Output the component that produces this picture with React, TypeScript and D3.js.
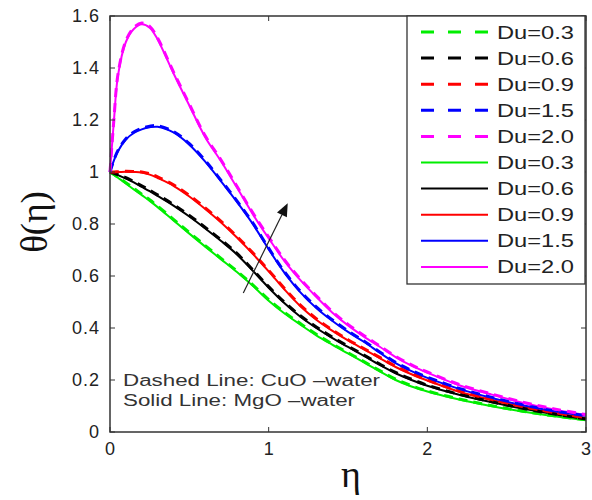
import React from "react";
import * as d3 from "d3";

const eta = [0, 0.025, 0.05, 0.1, 0.15, 0.2, 0.25, 0.3, 0.4, 0.5, 0.6, 0.7, 0.8, 0.9, 1.0, 1.1, 1.2, 1.3, 1.4, 1.5, 1.6, 1.7, 1.8, 1.9, 2.0, 2.2, 2.4, 2.6, 2.8, 3.0];

// Solid lines: MgO-water
const mgoDu03 = [1.0, 0.989, 0.978, 0.956, 0.933, 0.911, 0.889, 0.865, 0.814, 0.763, 0.713, 0.664, 0.615, 0.562, 0.505, 0.456, 0.413, 0.372, 0.336, 0.302, 0.268, 0.233, 0.2, 0.175, 0.156, 0.125, 0.1, 0.079, 0.061, 0.046];
const mgoDu06 = [1.0, 0.994, 0.988, 0.975, 0.96, 0.943, 0.926, 0.908, 0.871, 0.829, 0.783, 0.735, 0.683, 0.62, 0.555, 0.495, 0.443, 0.4, 0.362, 0.327, 0.293, 0.258, 0.226, 0.2, 0.178, 0.143, 0.115, 0.09, 0.068, 0.049];
const mgoDu09 = [1.0, 1.0, 1.0, 1.001, 1.0, 0.998, 0.99, 0.977, 0.947, 0.906, 0.858, 0.806, 0.748, 0.685, 0.618, 0.548, 0.484, 0.432, 0.39, 0.352, 0.318, 0.284, 0.25, 0.222, 0.198, 0.155, 0.124, 0.097, 0.074, 0.054];
const mgoDu15 = [1.0, 1.045, 1.08, 1.125, 1.15, 1.164, 1.172, 1.174, 1.152, 1.105, 1.04, 0.964, 0.885, 0.8, 0.703, 0.612, 0.537, 0.477, 0.428, 0.385, 0.347, 0.305, 0.265, 0.234, 0.208, 0.166, 0.132, 0.103, 0.08, 0.062];
const mgoDu20 = [1.0, 1.2, 1.37, 1.5, 1.55, 1.568, 1.555, 1.51, 1.38, 1.256, 1.134, 1.041, 0.94, 0.838, 0.745, 0.657, 0.584, 0.52, 0.46, 0.41, 0.367, 0.328, 0.288, 0.255, 0.228, 0.18, 0.145, 0.113, 0.087, 0.065];

// Dashed lines: CuO-water
const cuoDu03 = [1.0, 0.99, 0.98, 0.959, 0.937, 0.915, 0.893, 0.869, 0.818, 0.767, 0.717, 0.668, 0.619, 0.566, 0.509, 0.46, 0.417, 0.376, 0.339, 0.305, 0.271, 0.236, 0.203, 0.178, 0.158, 0.127, 0.102, 0.08, 0.062, 0.047];
const cuoDu06 = [1.0, 0.995, 0.99, 0.978, 0.963, 0.947, 0.93, 0.912, 0.875, 0.833, 0.787, 0.739, 0.687, 0.624, 0.559, 0.499, 0.447, 0.404, 0.365, 0.33, 0.296, 0.261, 0.229, 0.203, 0.18, 0.145, 0.117, 0.091, 0.069, 0.05];
const cuoDu09 = [1.0, 1.0, 1.001, 1.003, 1.002, 1.0, 0.993, 0.981, 0.951, 0.91, 0.862, 0.81, 0.752, 0.689, 0.622, 0.552, 0.488, 0.436, 0.393, 0.355, 0.321, 0.287, 0.253, 0.225, 0.2, 0.157, 0.126, 0.098, 0.075, 0.055];
const cuoDu15 = [1.0, 1.047, 1.083, 1.128, 1.154, 1.168, 1.176, 1.178, 1.156, 1.109, 1.044, 0.968, 0.889, 0.804, 0.707, 0.616, 0.541, 0.481, 0.432, 0.389, 0.35, 0.308, 0.268, 0.237, 0.211, 0.168, 0.134, 0.105, 0.081, 0.063];
const cuoDu20 = [1.0, 1.205, 1.375, 1.505, 1.555, 1.573, 1.56, 1.515, 1.385, 1.261, 1.139, 1.046, 0.945, 0.843, 0.75, 0.662, 0.588, 0.524, 0.464, 0.414, 0.371, 0.331, 0.291, 0.258, 0.231, 0.183, 0.147, 0.115, 0.089, 0.067];

const duLabels = ["Du=0.3", "Du=0.6", "Du=0.9", "Du=1.5", "Du=2.0"];
const colors = ["#00ee00", "#000000", "#ff0000", "#0000ff", "#ff00ff"];
const dashedSeries = [cuoDu03, cuoDu06, cuoDu09, cuoDu15, cuoDu20];
const solidSeries = [mgoDu03, mgoDu06, mgoDu09, mgoDu15, mgoDu20];

const xTicks = [0, 1, 2, 3];
const yTicks = [0, 0.2, 0.4, 0.6, 0.8, 1, 1.2, 1.4, 1.6];
const yTickLabels = ["0", "0.2", "0.4", "0.6", "0.8", "1", "1.2", "1.4", "1.6"];

const arrowStart = [0.84, 0.535];
const arrowEnd = [1.12, 0.88];

const annotation = ["Dashed Line: CuO \u2013water", "Solid Line: MgO \u2013water"];

export default function App() {
  const L = 110, R = 586, T = 16, B = 432;
  const x = d3.scaleLinear().domain([0, 3]).range([L, R]);
  const y = d3.scaleLinear().domain([0, 1.6]).range([B, T]);
  const line = d3
    .line<number>()
    .x((_, i) => x(eta[i]))
    .y((d) => y(d))
    .curve(d3.curveCatmullRom.alpha(0.5));

  const font = "'Liberation Sans', Arial, Helvetica, sans-serif";
  const axisColor = "#333";

  const ax0 = x(arrowStart[0]), ay0 = y(arrowStart[1]);
  const ax1 = x(arrowEnd[0]), ay1 = y(arrowEnd[1]);
  const ang = Math.atan2(ay1 - ay0, ax1 - ax0);
  const hl = 13, hw = 5.5;
  const bx = ax1 - hl * Math.cos(ang), by = ay1 - hl * Math.sin(ang);
  const px = -Math.sin(ang), py = Math.cos(ang);
  const head = `M${ax1},${ay1} L${bx + hw * px},${by + hw * py} L${bx - hw * px},${by - hw * py} Z`;

  const legX0 = 407, legX1 = 585, legY0 = 16, legY1 = 284;
  const rowY = (i: number) => 32 + i * 26.1;

  return (
    <svg
      width={592}
      height={500}
      style={{ position: "absolute", left: 0, top: 0, background: "#fff" }}
      fontFamily={font}
    >
      <rect x={0} y={0} width={592} height={500} fill="#fff" />
      {/* curves */}
      <g fill="none">
        {solidSeries.map((s, i) => (
          <path key={"s" + i} d={line(s) || ""} stroke={colors[i]} strokeWidth={2} />
        ))}
        {dashedSeries.map((s, i) => (
          <path
            key={"d" + i}
            d={line(s) || ""}
            stroke={colors[i]}
            strokeWidth={3}
            strokeDasharray="9 6"
          />
        ))}
      </g>

      {/* frame */}
      <rect x={L} y={T} width={R - L} height={B - T} fill="none" stroke={axisColor} strokeWidth={1.5} />
      {/* ticks */}
      <g stroke={axisColor} strokeWidth={1}>
        {yTicks.map((t, i) => (
          <g key={"yt" + i}>
            <line x1={L} x2={L + 5} y1={y(t)} y2={y(t)} />
            <line x1={R} x2={R - 5} y1={y(t)} y2={y(t)} />
          </g>
        ))}
        {xTicks.map((t, i) => (
          <g key={"xt" + i}>
            <line x1={x(t)} x2={x(t)} y1={B} y2={B - 5} />
            <line x1={x(t)} x2={x(t)} y1={T} y2={T + 5} />
          </g>
        ))}
      </g>
      {/* tick labels */}
      <g fill="#222" fontSize={18}>
        {yTicks.map((t, i) => (
          <text key={"yl" + i} x={100} y={y(t)} textAnchor="end" dominantBaseline="central" letterSpacing={1}>
            {yTickLabels[i]}
          </text>
        ))}
        {xTicks.map((t, i) => (
          <text key={"xl" + i} x={x(t)} y={455} textAnchor="middle">
            {String(t)}
          </text>
        ))}
      </g>

      {/* axis titles */}
      <text
        transform={`translate(47,222) rotate(-90)`}
        textAnchor="middle"
        fontFamily="'Liberation Serif', 'Times New Roman', serif"
        fontSize={37}
        fill="#111"
      >
        θ(η)
      </text>
      <text
        x={351}
        y={487}
        textAnchor="middle"
        fontFamily="'Liberation Serif', 'Times New Roman', serif"
        fontSize={38}
        fill="#111"
      >
        η
      </text>

      {/* arrow */}
      <line x1={ax0} y1={ay0} x2={bx} y2={by} stroke="#222" strokeWidth={1.2} />
      <path d={head} fill="#111" />

      {/* annotation */}
      <g fill="#333" fontSize={16}>
        <text x={123} y={386} textLength={257} lengthAdjust="spacingAndGlyphs">
          {annotation[0]}
        </text>
        <text x={123} y={406} textLength={232} lengthAdjust="spacingAndGlyphs">
          {annotation[1]}
        </text>
      </g>

      {/* legend */}
      <rect x={legX0} y={legY0} width={legX1 - legX0} height={legY1 - legY0} fill="#fff" stroke={axisColor} strokeWidth={1.3} />
      {duLabels.map((lab, i) => (
        <g key={"ld" + i}>
          <line x1={421} x2={488} y1={rowY(i)} y2={rowY(i)} stroke={colors[i]} strokeWidth={3} strokeDasharray="13 14" />
          <text x={497} y={rowY(i)} dominantBaseline="central" fontSize={19} fill="#222" textLength={77} lengthAdjust="spacingAndGlyphs">
            {lab}
          </text>
        </g>
      ))}
      {duLabels.map((lab, i) => (
        <g key={"ls" + i}>
          <line x1={421} x2={488} y1={rowY(i + 5)} y2={rowY(i + 5)} stroke={colors[i]} strokeWidth={2} />
          <text x={497} y={rowY(i + 5)} dominantBaseline="central" fontSize={19} fill="#222" textLength={77} lengthAdjust="spacingAndGlyphs">
            {lab}
          </text>
        </g>
      ))}
    </svg>
  );
}
